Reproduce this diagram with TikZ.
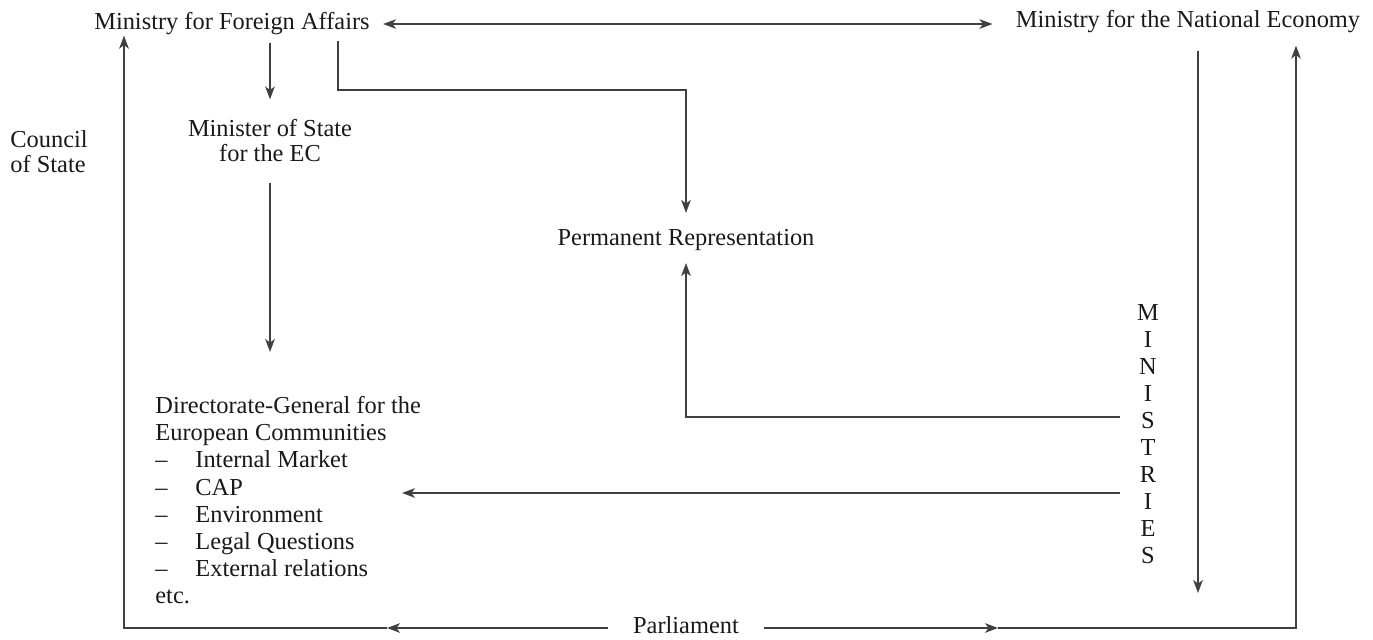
\documentclass[tikz,border=0pt]{standalone}
\usepackage{fontspec}
\setmainfont{Liberation Serif}
\usetikzlibrary{arrows.meta}

\newcommand{\dgitem}[1]{\makebox[20pt][l]{\textendash}#1}

\begin{document}
\begin{tikzpicture}[x=0.5pt,y=0.5pt,yscale=-1,xscale=1,
  lbl/.style={inner sep=0pt, text=black!90, font=\fontsize{12.2}{12.5}\selectfont},
  conn/.style={draw=black!75, line width=0.85pt},
  arr/.style={conn, -{Stealth[length=6.5pt,width=4.8pt,inset=1.8pt]}},
  dblarr/.style={conn, {Stealth[length=6.5pt,width=4.8pt,inset=1.8pt]}-{Stealth[length=6.5pt,width=4.8pt,inset=1.8pt]}}]
\useasboundingbox (0,0) rectangle (1373,639);

% Text Node
\node[lbl] (fa) at (232,24) {Ministry for Foreign Affairs};
% Text Node
\node[lbl] (ne) at (1188,22) {Ministry for the National Economy};
% Text Node
\node[lbl, align=left, anchor=west] (council) at (10,152) {Council\\of State};
% Text Node
\node[lbl, align=center] (ms) at (270,141) {Minister of State\\for the EC};
% Text Node
\node[lbl] (pr) at (686,240) {Permanent Representation};
% Text Node
\node[lbl, align=left, anchor=north west, font=\fontsize{12.2}{13.6}\selectfont] (dg) at (155,396)
  {Directorate-General for the\\European Communities\\\dgitem{Internal Market}\\\dgitem{CAP}\\
   \dgitem{Environment}\\\dgitem{Legal Questions}\\\dgitem{External relations}\\etc.};
% Text Node
\node[lbl, align=center, font=\fontsize{12.2}{13.5}\selectfont] (min) at (1148,434) {M\\I\\N\\I\\S\\T\\R\\I\\E\\S};
% Text Node
\node[lbl] (parl) at (686,625) {Parliament};

\coordinate (fprbend) at (338,90);
\coordinate (msdg) at (270,352);
\coordinate (mpr) at (0,417);
\coordinate (mdg) at (402,493);
\coordinate (nedown) at (1198,593);
\coordinate (lmid) at (387,628);
\coordinate (lcorner) at (124,628);
\coordinate (rmid) at (998,628);
\coordinate (rcorner) at (1296,628);

%Straight Lines
\draw[dblarr, shorten <=6.5pt, shorten >=11.5pt] (fa.east) -- (fa.east -| ne.west);
%Straight Lines
\draw[arr, shorten <=3.5pt, shorten >=10pt] (fa.south -| ms.north) -- (ms.north);
%Straight Lines
\draw[arr, shorten <=10pt] (ms.south) -- (msdg);
%Straight Lines
\draw[arr, shorten <=2.5pt, shorten >=8pt] (fa.south -| fprbend) -- (fprbend) -| (pr.north);
%Straight Lines
\draw[arr, shorten <=8.5pt, shorten >=6pt] (min.west |- mpr) -| (pr.south);
%Straight Lines
\draw[arr, shorten <=8.5pt] (min.west |- mdg) -- (mdg);
%Straight Lines
\draw[arr, shorten <=8.5pt] (ne.south -| nedown) -- (nedown);
%Straight Lines
\draw[arr, shorten <=12.5pt] (parl.west |- lmid) -- (lmid);
\draw[arr] (lmid) -- (lcorner) -- (fa.south -| lcorner);
%Straight Lines
\draw[arr, shorten <=12.5pt] (parl.east |- rmid) -- (rmid);
\draw[arr, shorten >=6pt] (rmid) -- (rcorner) -- (ne.south -| rcorner);

\end{tikzpicture}
\end{document}
